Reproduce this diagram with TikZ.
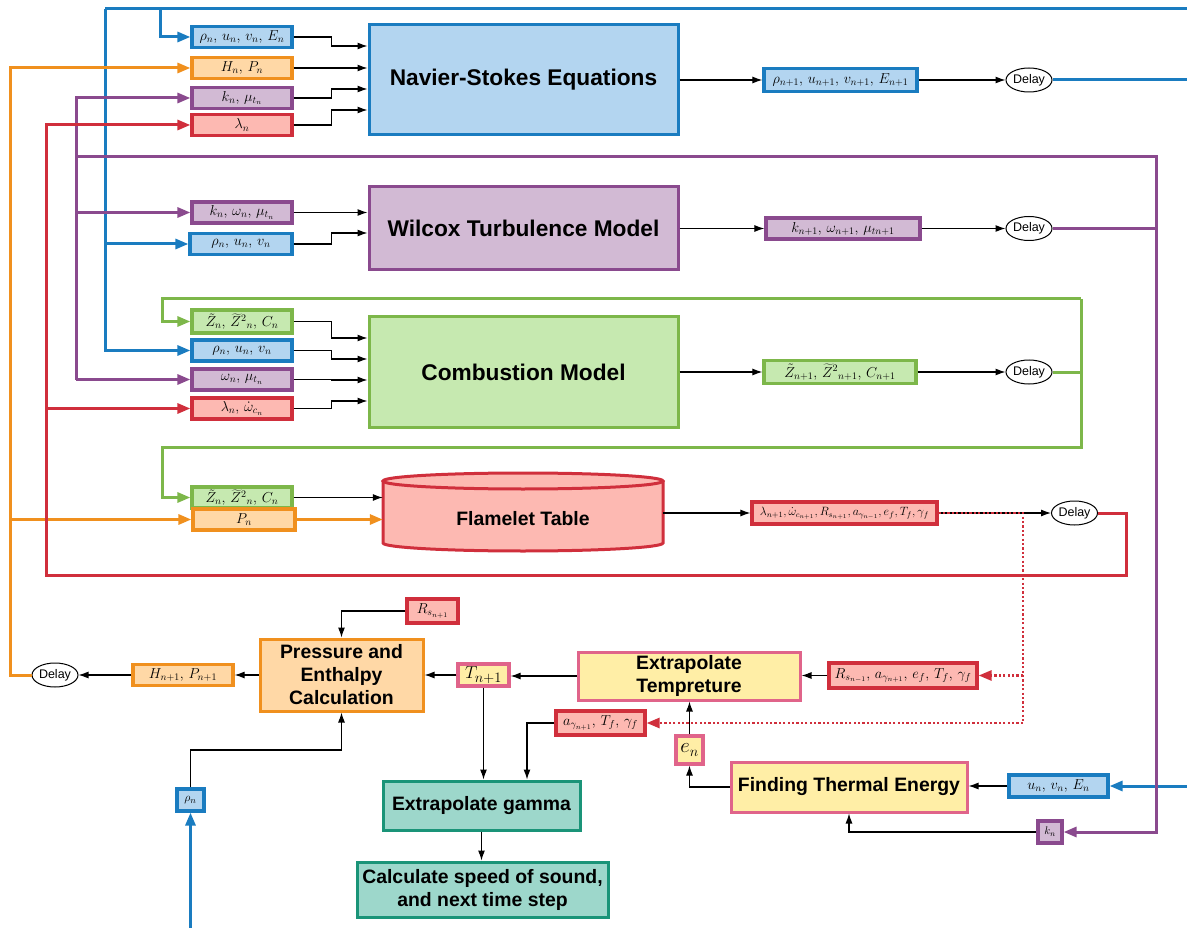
\documentclass[tikz,border=0pt]{standalone}
\usepackage[no-math]{fontspec}
\setmainfont{Liberation Sans}
\usetikzlibrary{arrows.meta,shapes.geometric}
\definecolor{cblue}{HTML}{1A7CC0}
\definecolor{fblue}{HTML}{B3D5F0}
\definecolor{cora}{HTML}{F0901E}
\definecolor{fora}{HTML}{FFD8A6}
\definecolor{cpur}{HTML}{8A4A8E}
\definecolor{fpur}{HTML}{D2BAD4}
\definecolor{cred}{HTML}{D02F3C}
\definecolor{fred}{HTML}{FDB9B2}
\definecolor{cgrn}{HTML}{7DB74A}
\definecolor{fgrn}{HTML}{C6E9B0}
\definecolor{cpink}{HTML}{E0648A}
\definecolor{fyel}{HTML}{FFEEA6}
\definecolor{cteal}{HTML}{1A9478}
\definecolor{fteal}{HTML}{9DD7CB}
\tikzset{
  sbox/.style={draw, line width=3.2pt, inner sep=0pt, minimum width=100pt, minimum height=21pt, font=\fontsize{14.5}{16}\selectfont},
  bbox/.style={sbox, draw=cblue, fill=fblue},
  obox/.style={sbox, draw=cora, fill=fora},
  pbox/.style={sbox, draw=cpur, fill=fpur},
  rbox/.style={sbox, draw=cred, fill=fred},
  gbox/.style={sbox, draw=cgrn, fill=fgrn},
  ybox/.style={sbox, draw=cpink, fill=fyel},
  mainbox/.style={draw, line width=3pt, align=center, inner sep=0pt, font=\fontsize{22.7}{26}\selectfont\bfseries},
  subbox/.style={draw, line width=3pt, align=center, inner sep=0pt, font=\fontsize{19.4}{23}\selectfont\bfseries},
  delay/.style={draw, ellipse, line width=1pt, minimum width=46pt, minimum height=24pt, inner sep=0pt, font=\fontsize{12.5}{14}\selectfont},
  arr/.style={-{Latex[length=10pt,width=7pt]}, line width=1.1pt, black},
  cline/.style={line width=3pt},
  carr/.style={cline, -{Triangle[length=13pt,width=10pt]}},
  rdot/.style={line width=2.6pt, cred, dash pattern=on 2.2pt off 2.2pt},
}
\newcommand{\cs}{,\,}
\begin{document}
\begin{tikzpicture}[x=1pt,y=-1pt]
\useasboundingbox (0,0) rectangle (1187,928);

% ---------- Navier-Stokes ----------
\node[mainbox, draw=cblue, fill=fblue, minimum width=309pt, minimum height=110pt] (ns) at (523.5,80) {Navier-Stokes Equations};
\node[bbox] (in1) at (242,37) {$\rho_n\cs u_n\cs v_n\cs E_n$};
\node[obox] (in2) at (242,68) {$H_n\cs P_n$};
\node[pbox] (in3) at (242,98) {$k_n\cs \mu_{t_n}$};
\node[rbox] (in4) at (242,125) {$\lambda_n$};
\node[bbox, minimum width=153pt, minimum height=23pt] (nsout) at (840.5,80) {$\rho_{n+1}\cs u_{n+1}\cs v_{n+1}\cs E_{n+1}$};
\node[delay] (d1) at (1029,80) {Delay};

\draw[arr] (in1.east) -- ++(38,0) |- ([yshift=34pt]ns.west);
\draw[arr] (in2.east) -- ([yshift=12pt]ns.west);
\draw[arr] (in3.east) -- ++(38,0) |- ([yshift=-9pt]ns.west);
\draw[arr] (in4.east) -- ++(38,0) |- ([yshift=-30pt]ns.west);
\draw[arr] (ns.east) -- (nsout.west);
\draw[arr] (nsout.east) -- (d1.west);

% ---------- Wilcox ----------
\node[mainbox, draw=cpur, fill=fpur, minimum width=309pt, minimum height=83pt] (wil) at (523.5,228.5) {Wilcox Turbulence Model};
\node[pbox] (w1) at (242,212.5) {$k_n\cs \omega_n\cs \mu_{t_n}$};
\node[bbox, minimum width=102pt] (w2) at (241,244) {$\rho_n\cs u_n\cs v_n$};
\node[pbox, minimum width=154pt] (wout) at (843,228.5) {$k_{n+1}\cs \omega_{n+1}\cs \mu_{tn+1}$};
\node[delay] (d2) at (1029,228.5) {Delay};

\draw[arr] (w1.east) -- (w1.east -| wil.west);
\draw[arr] (w2.east) -- ++(38,0) |- ([yshift=-4.5pt]wil.west);
\draw[arr] (wil.east) -- (wout.west);
\draw[arr] (wout.east) -- (d2.west);

% ---------- Combustion ----------
\node[mainbox, draw=cgrn, fill=fgrn, minimum width=309pt, minimum height=110pt] (comb) at (523.5,372) {Combustion Model};
\node[gbox, minimum height=23pt] (c1) at (242,321.5) {$\tilde{Z}_n\cs \widetilde{Z}^2{}_n\cs C_n$};
\node[bbox] (c2) at (242,350.5) {$\rho_n\cs u_n\cs v_n$};
\node[pbox] (c3) at (242,379.5) {$\omega_n\cs \mu_{t_n}$};
\node[rbox] (c4) at (242,408.5) {$\lambda_n\cs \dot{\omega}_{c_n}$};
\node[gbox, minimum width=152pt, minimum height=23pt] (cout) at (840,372) {$\tilde{Z}_{n+1}\cs \widetilde{Z}^2{}_{n+1}\cs C_{n+1}$};
\node[delay] (d3) at (1029,372) {Delay};

\draw[arr] (c1.east) -- ++(38,0) |- ([yshift=34pt]comb.west);
\draw[arr] (c2.east) -- ++(38,0) |- ([yshift=13pt]comb.west);
\draw[arr] (c3.east) -- ++(38,0) |- ([yshift=-8pt]comb.west);
\draw[arr] (c4.east) -- ++(38,0) |- ([yshift=-29pt]comb.west);
\draw[arr] (comb.east) -- (cout.west);
\draw[arr] (cout.east) -- (d3.west);

% ---------- Flamelet table ----------
\fill[fred] (383,481) -- (383,543) arc[start angle=180,end angle=360,x radius=140pt,y radius=8pt] -- (663,481) arc[start angle=0,end angle=180,x radius=140pt,y radius=8pt] -- cycle;
\draw[cred, line width=3pt] (383,481) -- (383,543) arc[start angle=180,end angle=360,x radius=140pt,y radius=8pt] -- (663,481);
\draw[cred, line width=3pt] (523,481) ellipse[x radius=140pt,y radius=8pt];
\node[minimum width=280pt, minimum height=78pt, inner sep=0pt, font=\fontsize{19.4}{23}\selectfont\bfseries] (flam) at (523,519) {Flamelet Table};
\node[gbox] (f1) at (242,497.5) {$\tilde{Z}_n\cs \widetilde{Z}^2{}_n\cs C_n$};
\node[obox, minimum width=102pt] (f2) at (244,519.5) {$P_n$};
\node[rbox, minimum width=185pt, minimum height=22pt, font=\fontsize{12}{14}\selectfont] (fout) at (844.5,513) {$\lambda_{n+1},\dot{\omega}_{c_{n+1}},R_{s_{n+1}},a_{\gamma_{n-1}},e_f,T_f,\gamma_f$};
\node[delay] (d4) at (1074.5,513) {Delay};

\draw[arr] (f1.east) -- (f1.east -| flam.west);
\draw[carr, cora] (f2.east) -- (f2.east -| flam.west);
\draw[arr] (flam.east |- fout.west) -- (fout.west);
\draw[arr] (fout.east) -- (d4.west);

% ---------- Lower section ----------
\node[subbox, draw=cora, fill=fora, minimum width=163pt, minimum height=72pt] (pe) at (341.5,675) {Pressure and\\Enthalpy\\Calculation};
\node[rbox, minimum width=51pt, minimum height=24pt] (rs) at (432.5,611) {$R_{s_{n+1}}$};
\node[obox] (hp) at (183,675) {$H_{n+1}\cs P_{n+1}$};
\node[delay] (d5) at (55,675) {Delay};
\node[ybox, minimum width=51pt, minimum height=22pt, font=\fontsize{19}{20}\selectfont] (tn) at (483.5,675) {$T_{n+1}$};
\node[subbox, draw=cpink, fill=fyel, minimum width=222pt, minimum height=48pt] (et) at (689,676) {Extrapolate\\Tempreture};
\node[rbox, minimum width=148pt, minimum height=25pt] (rsa) at (903,675.5) {$R_{s_{n-1}}\cs a_{\gamma_{n+1}}\cs e_f\cs T_f\cs \gamma_f$};
\node[rbox, minimum width=89pt, minimum height=24pt] (agt) at (600.5,723) {$a_{\gamma_{n+1}}\cs T_f\cs \gamma_f$};
\node[ybox, minimum width=27pt, minimum height=28pt, font=\fontsize{20}{21}\selectfont] (en) at (689.5,750) {$e_n$};
\node[subbox, draw=cpink, fill=fyel, minimum width=236pt, minimum height=50pt] (fte) at (849,787) {Finding Thermal Energy};
\node[bbox, minimum width=99pt, minimum height=22pt] (uve) at (1058.5,786) {$u_n\cs v_n\cs E_n$};
\node[pbox, minimum width=24pt, minimum height=22pt, font=\fontsize{11}{12}\selectfont] (kb) at (1050,832) {$k_n$};
\node[subbox, draw=cteal, fill=fteal, minimum width=197pt, minimum height=49pt] (eg) at (481.5,805.5) {Extrapolate gamma};
\node[subbox, draw=cteal, fill=fteal, minimum width=251pt, minimum height=55pt] (cs) at (482.5,889.5) {Calculate speed of sound,\\and next time step};
\node[bbox, minimum width=27pt, minimum height=22pt, font=\fontsize{13}{14}\selectfont] (rho) at (190.5,800) {$\rho_n$};

\coordinate (rk) at (190.5,750);
\draw[arr] (rs.west) -| (pe.north);
\draw[arr] (pe.west) -- (hp.east);
\draw[arr] (hp.west) -- (d5.east);
\draw[arr] (tn.west) -- (pe.east);
\draw[arr] (et.west) -- (et.west -| tn.east);
\draw[arr] (rsa.west) -- (rsa.west -| et.east);
\draw[arr] (agt.west) -| ([xshift=45.5pt]eg.north);
\draw[arr] (tn.south) -- (tn.south |- eg.north);
\draw[arr] (en.north) -- (en.north |- et.south);
\draw[arr] (fte.west) -| (en.south);
\draw[arr] (uve.west) -- (uve.west -| fte.east);
\draw[arr] (kb.west) -| (fte.south);
\draw[arr] (rho.north) -- (rk) -| (pe.south);
\draw[arr] (eg.south) -- (eg.south |- cs.north);

% ---------- Feedback: blue ----------
\coordinate (bT) at (105,9);
\coordinate (bTR) at (1187,9);
\coordinate (bS) at (160,9);
\coordinate (bR1) at (1187,80);
\coordinate (bBot) at (190.5,928);
\coordinate (bRt) at (1187,786);
\draw[cline, cblue] (bTR) -- (bT);
\draw[carr, cblue] (bT) |- (c2.west);
\draw[carr, cblue] (bS) |- (in1.west);
\draw[carr, cblue] (bT |- w2.west) -- (w2.west);
\draw[cline, cblue] (d1.east) -- (bR1);
\draw[carr, cblue] (bBot) -- (rho.south);
\draw[carr, cblue] (bRt) -- (uve.east);

% ---------- Feedback: orange ----------
\coordinate (oB) at (10,68);
\draw[carr, cora] (d5.west) -| (oB) -- (in2.west);
\draw[carr, cora] (oB |- f2.west) -- (f2.west);

% ---------- Feedback: purple ----------
\coordinate (pB) at (76,98);
\coordinate (pT) at (76,157);
\coordinate (pR) at (1156,157);
\draw[carr, cpur] (pB |- c3.west) |- (in3.west);
\draw[carr, cpur] (pB |- c3.west) -- (c3.west);
\draw[carr, cpur] (pB |- w1.west) -- (w1.west);
\draw[carr, cpur] (pT) -- (pR) |- (kb.east);
\draw[cline, cpur] (d2.east) -- (pR |- d2.east);

% ---------- Feedback: red ----------
\coordinate (rC) at (1126,575);
\coordinate (rBot) at (46,575);
\draw[carr, cred] (d4.east) -| (rC) -- (rBot) |- (in4.west);
\draw[carr, cred] (rBot |- c4.west) -- (c4.west);

% ---------- Feedback: green ----------
\coordinate (gTL) at (162,299);
\coordinate (gTR) at (1081,299);
\coordinate (gBR) at (1081,447);
\coordinate (gBL) at (162,447);
\draw[carr, cgrn] (gTR) -- (gTL) |- (c1.west);
\draw[carr, cgrn] (gTR) -- (gBR) -- (gBL) |- (f1.west);
\draw[cline, cgrn] (d3.east) -- (gTR |- d3.east);

% ---------- Dotted red ----------
\coordinate (rdx) at (1023,513);
\draw[rdot] (fout.east) -- (rdx) -- (rdx |- agt.east);
\draw[rdot, -{Triangle[length=13pt,width=10pt]}] (rdx |- agt.east) -- (agt.east);
\draw[rdot, -{Triangle[length=13pt,width=10pt]}] (rdx |- rsa.east) -- (rsa.east);
\end{tikzpicture}
\end{document}
